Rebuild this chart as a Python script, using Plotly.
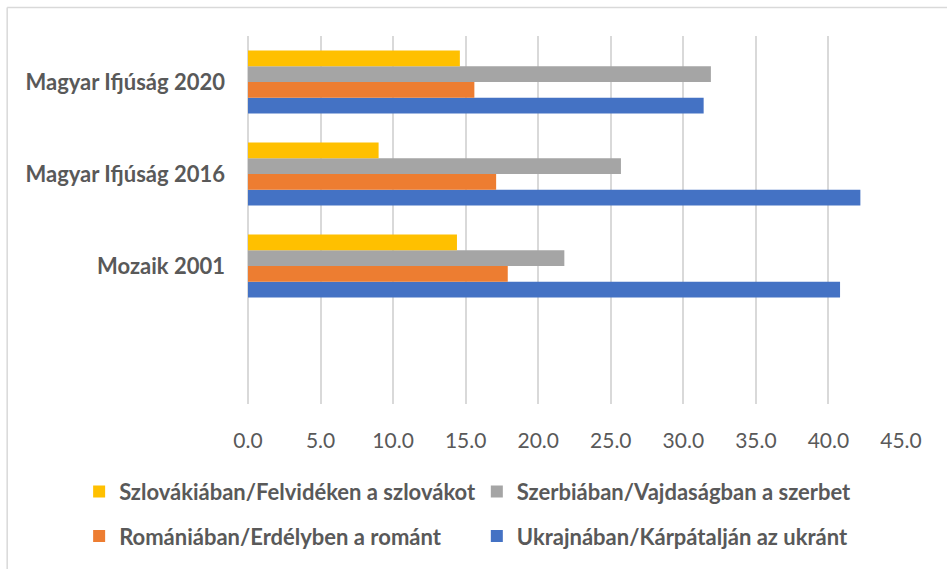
import plotly.graph_objects as go

categories = ["Mozaik 2001", "Magyar Ifjúság 2016", "Magyar Ifjúság 2020"]
series_names = [
    "Ukrajnában/Kárpátalján az ukránt",
    "Romániában/Erdélyben a románt",
    "Szerbiában/Vajdaságban a szerbet",
    "Szlovákiában/Felvidéken a szlovákot",
]
ukrajna = [40.8, 42.2, 31.4]
romania = [17.9, 17.1, 15.6]
szerbia = [21.8, 25.7, 31.9]
szlovakia = [14.4, 9.0, 14.6]
x_ticks = [0, 5, 10, 15, 20, 25, 30, 35, 40, 45]

colors = ["#4472C4", "#ED7D31", "#A5A5A5", "#FFC000"]
values = [ukrajna, romania, szerbia, szlovakia]
legend_ids = ["legend4", "legend3", "legend2", "legend"]

W, H = 947, 569
L, R, T, B = 248, 45.5, 36, 160
PW, PH = W - L - R, H - T - B

def px_x(px):
    return (px - L) / PW

def px_y(py):
    return (H - B - py) / PH

TXT = "#595959"
FONT = "Lato"

fig = go.Figure()
for name, vals, col, lg in zip(series_names, values, colors, legend_ids):
    fig.add_trace(go.Bar(
        y=categories, x=vals, name=name, orientation="h",
        marker=dict(color=col, line=dict(width=0)),
        legend=lg, hoverinfo="x+name",
    ))

# legend positions (px of legend box left, row centre)
leg_pos = {
    "legend": (79, 498),
    "legend2": (477, 498),
    "legend3": (79, 543),
    "legend4": (477, 543),
}
legend_layouts = {}
for k, (lx, ly) in leg_pos.items():
    legend_layouts[k] = dict(
        x=px_x(lx), y=px_y(ly), xanchor="left", yanchor="middle",
        orientation="h", bgcolor="rgba(0,0,0,0)", borderwidth=0,
        font=dict(family=FONT, size=22, color=TXT, weight="bold"),
        itemclick=False, itemdoubleclick=False,
    )

fig.update_layout(
    width=W, height=H,
    margin=dict(l=L, r=R, t=T, b=B, pad=0),
    paper_bgcolor="white", plot_bgcolor="white",
    barmode="group", bargap=0.314, bargroupgap=0,
    showlegend=True,
    font=dict(family=FONT, color=TXT),
    xaxis=dict(
        range=[0, 45], tickvals=x_ticks, tickformat=".1f",
        showgrid=True, gridcolor="#D9D9D9", gridwidth=1.5,
        zeroline=True, zerolinecolor="#D9D9D9", zerolinewidth=1.5,
        showline=False, ticks="", ticklabelstandoff=22,
        tickfont=dict(family=FONT, size=21, color=TXT),
        fixedrange=True,
    ),
    yaxis=dict(
        type="category", categoryorder="array", categoryarray=categories,
        range=[-1.5, 2.5], showgrid=False, zeroline=False, showline=False,
        ticks="", ticklabelstandoff=22,
        tickfont=dict(family=FONT, size=22, color=TXT, weight="bold"),
        fixedrange=True,
    ),
    shapes=[
        dict(type="line", xref="paper", yref="paper",
             x0=px_x(7), x1=px_x(960), y0=px_y(7), y1=px_y(7),
             line=dict(color="#D9D9D9", width=1.5)),
        dict(type="line", xref="paper", yref="paper",
             x0=px_x(7), x1=px_x(7), y0=px_y(7), y1=px_y(590),
             line=dict(color="#D9D9D9", width=1.5)),
    ],
    **legend_layouts,
)

fig.write_html(
    "out.html",
    config={"displayModeBar": False},
    post_script="document.body.style.margin='0';document.body.style.overflow='hidden';",
)
